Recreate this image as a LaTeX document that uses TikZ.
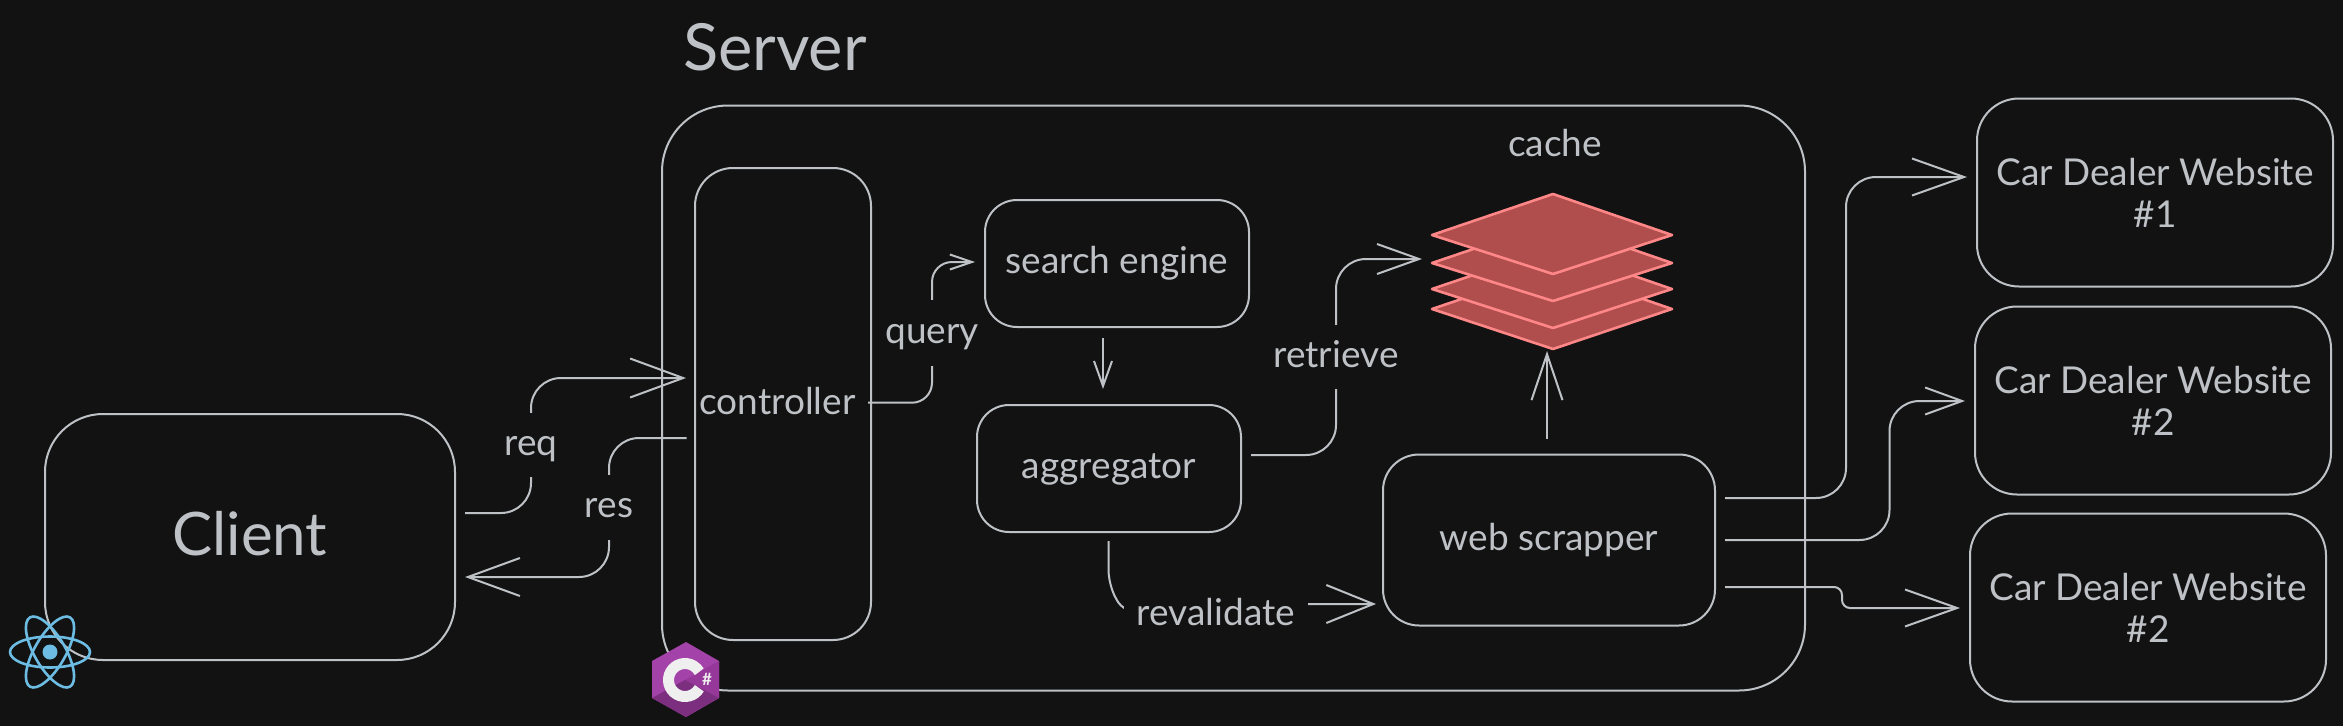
\documentclass[tikz,border=0pt]{standalone}
\usepackage{fontspec}
\setmainfont{Lato}
\usetikzlibrary{arrows.meta}
\definecolor{bgc}{HTML}{121212}
\definecolor{inkc}{HTML}{BEC2C6}
\definecolor{cacheedge}{HTML}{FF8787}
\definecolor{cachefill}{HTML}{B04E4E}
\definecolor{reactc}{HTML}{6CBCE4}
\definecolor{csA}{HTML}{A342A8}
\definecolor{csB}{HTML}{96389A}
\definecolor{csC}{HTML}{7B2F7E}
\definecolor{csW}{HTML}{EFEFEF}
\tikzset{
  box/.style={draw=inkc,line width=2pt,text=inkc,inner sep=0pt,align=center},
  lbl/.style={text=inkc,inner sep=0pt,align=center,font=\fontsize{#1}{#1}\selectfont},
  lbl/.default=37,
  bodytext/.style={font=\fontsize{37}{42}\selectfont},
  oneline/.style={bodytext,text height=28pt,text depth=8pt},
  cut/.style={fill=bgc,text=inkc,inner sep=0pt,text height=28pt,text depth=8pt,font=\fontsize{37}{37}\selectfont},
  conn/.style={draw=inkc,line width=2pt},
  barb/.style n args={2}{-{Straight Barb[length=#1pt,width=#2pt,line width=2pt]}},
  sheet/.style={draw=cacheedge,fill=cachefill,line width=2.6pt,line join=round},
}
\begin{document}
\begin{tikzpicture}[x=1pt,y=-1pt]
\useasboundingbox[fill=bgc] (0,0) rectangle (2343,726);

% containers and boxes
\node[box,minimum width=410pt,minimum height=246pt,rounded corners=58pt,font=\fontsize{60}{60}\selectfont] (client) at (250,537) {\raisebox{7pt}{Client}};
\node[box,minimum width=1143pt,minimum height=585pt,rounded corners=66pt] (server) at (1233.5,398) {};
\node[box,oneline,minimum width=176pt,minimum height=472pt,rounded corners=38pt] (controller) at (783,404) {\hspace*{-11pt}controller};
\node[box,oneline,minimum width=264pt,minimum height=127pt,rounded corners=32pt] (search) at (1117,263.5) {search engine};
\node[box,oneline,minimum width=264pt,minimum height=127pt,rounded corners=32pt] (agg) at (1109,468.5) {aggregator};
\node[box,oneline,minimum width=332pt,minimum height=171pt,rounded corners=36pt] (scrapper) at (1549,540) {web scrapper};
\node[box,bodytext,minimum width=356pt,minimum height=188pt,rounded corners=42pt] (w1) at (2155,192.5) {Car Dealer Website\\\#1};
\node[box,bodytext,minimum width=356pt,minimum height=188pt,rounded corners=42pt] (w2) at (2153,400.5) {Car Dealer Website\\\#2};
\node[box,bodytext,minimum width=356pt,minimum height=188pt,rounded corners=42pt] (w3) at (2148,607.5) {Car Dealer Website\\\#2};

\node[lbl=65] (serverlabel) at (775,47) {Server};
\node[lbl=37] (cachelabel) at (1555,143) {cache};

% cache stack
\foreach \m/\b in {309/349,289/328,263/301,235/274}{
  \draw[sheet] (1432,\m) -- (1553,\m-41) -- (1672,\m) -- (1553,\b) -- cycle;
}
\coordinate (cachetip) at (1547,351);
\coordinate (cacheleft) at (1422,259);

% named connector ends
\coordinate (reqS) at (465,513);
\coordinate (reqA) at (531,513);
\coordinate (reqB) at (531,378);
\coordinate (reqE) at (686,378);
\coordinate (resS) at (686.6,438);
\coordinate (resA) at (609,438);
\coordinate (resB) at (609,577);
\coordinate (resE) at (465,577);
\coordinate (qS) at (868,402.7);
\coordinate (qA) at (932,402.7);
\coordinate (qB) at (932,262);
\coordinate (qE) at (975,262);
\coordinate (rS) at (1251,455);
\coordinate (rA) at (1336,455);
\coordinate (rB) at (1336,259);
\coordinate (sS) at (1103,338);
\coordinate (sE) at (1103,389);
\coordinate (vS) at (1108.6,541);
\coordinate (vA) at (1108.6,585);
\coordinate (vB) at (1124,613);
\coordinate (vC) at (1308,604);
\coordinate (vE) at (1376,604);
\coordinate (upS) at (1547,439);
\coordinate (d1S) at (1725,498);
\coordinate (d1A) at (1846,498);
\coordinate (d1B) at (1846,177);
\coordinate (d1E) at (1967,177);
\coordinate (d2S) at (1725,540);
\coordinate (d2A) at (1889.5,540);
\coordinate (d2B) at (1889.5,401);
\coordinate (d2E) at (1965,401);
\coordinate (d3S) at (1725,587);
\coordinate (d3A) at (1842,587);
\coordinate (d3B) at (1842,608);
\coordinate (d3E) at (1960,608);

% connectors
\draw[conn,barb={53}{39},rounded corners=30pt] (reqS) -- (reqA) -- (reqB) -- (reqE);
\node[cut,minimum height=64pt] (reqlabel) at (531,445) {req};
\draw[conn,barb={52}{38},rounded corners=30pt] (resS) -- (resA) -- (resB) -- (resE);
\node[cut,minimum height=65pt] (reslabel) at (609,507.5) {res};
\draw[conn,barb={22}{15},rounded corners=20pt] (qS) -- (qA) -- (qB) -- (qE);
\node[cut,minimum height=66pt] (querylabel) at (932,333) {query};
\draw[conn,barb={42}{30},rounded corners=30pt] (rS) -- (rA) -- (rB) -- (cacheleft);
\node[cut,minimum height=64pt] (retrievelabel) at (1336,357) {retrieve};
\draw[conn,barb={25}{18}] (sS) -- (sE);
\draw[conn,barb={47}{38},rounded corners=14pt] (vS) -- (vA) -- (vB) -- (vC) -- (vE);
\node[cut,minimum width=184pt,minimum height=44pt] (revalidatelabel) at (1216,615) {revalidate};
\draw[conn,barb={46}{31}] (upS) -- (cachetip);
\draw[conn,barb={52}{37},rounded corners=30pt] (d1S) -- (d1A) -- (d1B) -- (d1E);
\draw[conn,barb={37}{27},rounded corners=30pt] (d2S) -- (d2A) -- (d2B) -- (d2E);
\draw[conn,barb={52}{37},rounded corners=8pt] (d3S) -- (d3A) -- (d3B) -- (d3E);

% React logo
\begin{scope}[shift={(50,652)},draw=reactc,line width=2.6pt]
  \draw (0,0) ellipse [x radius=40,y radius=15.5];
  \draw[rotate=60] (0,0) ellipse [x radius=40,y radius=15.5];
  \draw[rotate=120] (0,0) ellipse [x radius=40,y radius=15.5];
  \fill[reactc] (0,0) circle [radius=7.5];
\end{scope}

% C# logo
\fill[csA] (686,642) -- (719,661) -- (719,698) -- (686,717) -- (652,698) -- (652,661) -- cycle;
\fill[csB] (685,680) -- (719,661) -- (719,698) -- cycle;
\fill[csC] (685,680) -- (719,698) -- (686,717) -- (652,698) -- cycle;
\draw[csW,line width=11pt] (685,680) ++(30:16.5) arc[start angle=30,end angle=330,radius=16.5];
\node[text=csW,inner sep=0pt,font=\fontsize{17}{17}\selectfont\bfseries] (sharp) at (707,679) {\#};
\end{tikzpicture}
\end{document}
